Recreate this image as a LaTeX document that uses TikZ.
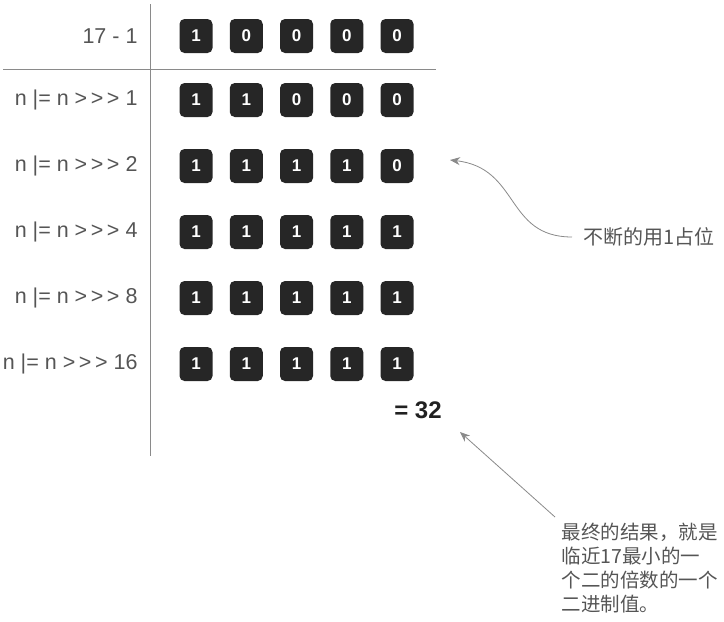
\documentclass[tikz,border=0pt]{standalone}
\usepackage{fontspec}
\setmainfont{Liberation Sans}
\newfontfamily\cjk{Noto Sans CJK SC}
\usetikzlibrary{arrows.meta}
\definecolor{bitfill}{HTML}{262626}
\definecolor{labelgray}{HTML}{555555}
\definecolor{rulegray}{HTML}{8A8A8A}
\newcommand\shr{>\,>\,>}

\begin{document}
\begin{tikzpicture}[x = 1pt, y = -1pt, line width = 1pt,
		bit/.style = {fill = bitfill, rounded corners = 5pt, minimum width = 33pt,
			minimum height = 34pt, inner sep = 0pt, text = white,
			font = \fontsize{17}{17}\selectfont\bfseries},
		rowlabel/.style = {anchor = east, inner sep = 0pt, text = labelgray,
			font = \fontsize{21.5}{21.5}\selectfont},
		note/.style = {align = left, text = labelgray,
			font = \cjk\fontsize{19.5}{24}\selectfont},
		pointer/.style = {draw = rulegray, line width = 0.8pt,
			-{Stealth[length = 10pt, width = 8pt]}}]
		\useasboundingbox (0,0) rectangle (724,622);
		% table rules
		\draw [rulegray] (150,4) -- (150,456);
		\draw [rulegray] (3,69) -- (436,69);
		% rows of bits
		\foreach \r/\y/\lab/\bits in {0/36/{17 - 1}/{1,0,0,0,0},
				1/100/{n |= n \shr{} 1}/{1,1,0,0,0},
				2/166/{n |= n \shr{} 2}/{1,1,1,1,0},
				3/232/{n |= n \shr{} 4}/{1,1,1,1,1},
				4/298/{n |= n \shr{} 8}/{1,1,1,1,1},
				5/364/{n |= n \shr{} 16}/{1,1,1,1,1}} {
			\node [rowlabel] (lab\r) at (138,\y) {\lab};
			\foreach \b [count = \c] in \bits
				\node [bit] (bit\r\c) at ({196 + 50.25*(\c-1)},\y) {\b};
		}
		\node [text = black!87, font = \fontsize{24}{24}\selectfont\bfseries] (sum) at (418,410) {= 32};
		% notes
		\node [note, anchor = west, inner xsep = 11pt, font = \cjk\fontsize{20}{24}\selectfont] (fill) at (572,237) {不断的用1占位};
		\node [note, anchor = north west, inner sep = 6pt] (result) at (555,517)
			{最终的结果，就是\\临近17最小的一\\个二的倍数的一个\\二进制值。};
		\coordinate (filltip) at (450,160);
		\coordinate (sumtip) at (460,432);
		\draw [pointer] (fill.west) .. controls (505,237) and (520,168) .. (filltip);
		\draw [pointer] (result.north west) -- (sumtip);
	\end{tikzpicture}
\end{document}
